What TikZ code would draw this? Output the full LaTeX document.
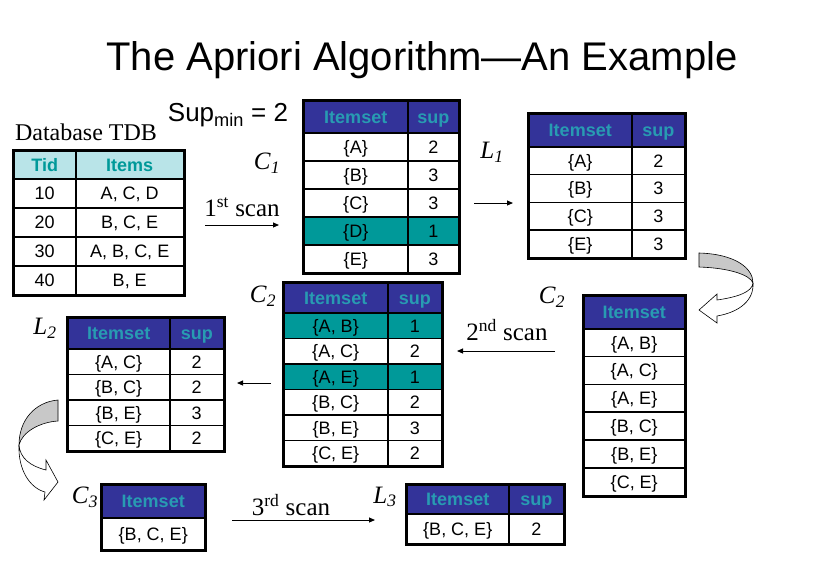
\documentclass[tikz,border=0pt]{standalone}
\usepackage{fontspec}
\setmainfont{Liberation Serif}
\newfontfamily\arialfont{Liberation Sans}
\usetikzlibrary{arrows.meta}
\definecolor{hdrblue}{RGB}{51,51,153}
\definecolor{hdrtext}{RGB}{40,155,178}
\definecolor{rowteal}{RGB}{0,153,153}
\definecolor{dbhead}{RGB}{185,228,232}
\definecolor{bandgray}{RGB}{200,200,200}
\tikzset{
  cell/.style={draw, line width=1.5pt, anchor=north west, inner sep=0pt,
    text height=13pt, text depth=0pt,
    font=\arialfont\fontsize{18}{18}\selectfont},
  hcell/.style={cell, fill=hdrblue, text=hdrtext,
    font=\arialfont\bfseries\fontsize{18}{18}\selectfont},
  dbcell/.style={cell, fill=dbhead, text=rowteal,
    font=\arialfont\bfseries\fontsize{18}{18}\selectfont},
  frame/.style={line width=3pt},
  lbl/.style={font=\fontsize{25}{25}\selectfont},
  scanarrow/.style={-{Triangle[length=6pt,width=5pt]}, line width=1pt},
  band/.style={draw, line width=0.6pt}
}
\begin{document}
\begin{tikzpicture}[x=1pt,y=-1pt]
    \useasboundingbox (0,0) rectangle (813,566);
    \node[font=\arialfont\fontsize{40}{40}\selectfont] (title) at (422,60) {The Apriori Algorithm—An Example};
    % database
    \node[lbl, font=\fontsize{24}{24}\selectfont] (TDB) at (86,132) {Database TDB};
    \node[font=\arialfont\fontsize{26}{26}\selectfont] (SUP) at (228,115) {Sup\textsubscript{min} = 2};
    \node[dbcell, minimum width=62pt, minimum height=28pt] (DBh1) at (13,150) {Tid};
    \node[dbcell, minimum width=108pt, minimum height=28pt] (DBh2) at (75,150) {Items};
    \foreach \t/\s [count=\i] in {10/{A, C, D}, 20/{B, C, E}, 30/{A, B, C, E}, 40/{B, E}} {
        \node[cell, minimum width=62pt, minimum height=29pt] (DB\i a) at (13,149+29*\i) {\t};
        \node[cell, minimum width=108pt, minimum height=29pt] (DB\i b) at (75,149+29*\i) {\s};
    }
    \draw[frame] (DBh1.north west) rectangle (DB4b.south east);
    % first scan
    \node[lbl] (C1l) at (267,163) {\textit{C}\textsubscript{\textit{1}}};
    \node[lbl] (S1) at (242,207) {1\textsuperscript{st} scan};
    \coordinate (S1a) at (205,225);
    \coordinate (S1b) at (279,225);
    \draw[scanarrow] (S1a) -- (S1b);
    \node[hcell, minimum width=104pt, minimum height=32pt] (C1h1) at (303,100) {Itemset};
    \node[hcell, minimum width=51pt, minimum height=32pt] (C1h2) at (407,100) {sup};
    \foreach \s/\n/\f [count=\i] in {{\{A\}}/2/white, {\{B\}}/3/white, {\{C\}}/3/white, {\{D\}}/1/rowteal, {\{E\}}/3/white} {
        \node[cell, fill=\f, minimum width=104pt, minimum height=28pt] (C1\i a) at (303,104+28*\i) {\s};
        \node[cell, fill=\f, minimum width=51pt, minimum height=28pt] (C1\i b) at (407,104+28*\i) {\n};
    }
    \draw[frame] (C1h1.north west) rectangle (C15b.south east);
    % L1
    \node[lbl] (L1l) at (492,152) {\textit{L}\textsubscript{\textit{1}}};
    \coordinate (A1a) at (474,203);
    \coordinate (A1b) at (513,203);
    \draw[scanarrow] (A1a) -- (A1b);
    \node[hcell, minimum width=103pt, minimum height=33pt] (L1h1) at (528,113) {Itemset};
    \node[hcell, minimum width=53pt, minimum height=33pt] (L1h2) at (631,113) {sup};
    \foreach \s/\n [count=\i] in {{\{A\}}/2, {\{B\}}/3, {\{C\}}/3, {\{E\}}/3} {
        \node[cell, minimum width=103pt, minimum height=27.75pt] (L1\i a) at (528,118.25+27.75*\i) {\s};
        \node[cell, minimum width=53pt, minimum height=27.75pt] (L1\i b) at (631,118.25+27.75*\i) {\n};
    }
    \draw[frame] (L1h1.north west) rectangle (L14b.south east);
    % join step L1 -> C2
    \draw[band, fill=bandgray] (699,253) .. controls (735,254) and (753,268) .. (753,283)
        .. controls (750,275) and (730,268) .. (699,267) -- cycle;
    \draw[band, fill=white] (753,283) .. controls (754,300) and (740,312) .. (717,316)
        -- (717,323) -- (699,310) -- (717,294) -- (717,300)
        .. controls (738,297) and (752,292) .. (753,283);
    \node[hcell, minimum width=101pt, minimum height=33pt] (C2Rh) at (583,295) {Itemset};
    \foreach \s [count=\i] in {{\{A, B\}}, {\{A, C\}}, {\{A, E\}}, {\{B, C\}}, {\{B, E\}}, {\{C, E\}}} {
        \node[cell, minimum width=101pt, minimum height=27.8pt] (C2R\i) at (583,300.2+27.8*\i) {\s};
    }
    \draw[frame] (C2Rh.north west) rectangle (C2R6.south east);
    % second scan
    \node[lbl] (C2Rl) at (552,297) {\textit{C}\textsubscript{\textit{2}}};
    \node[lbl] (S2) at (507,330) {2\textsuperscript{nd} scan};
    \coordinate (S2a) at (555,351);
    \coordinate (S2b) at (457,351);
    \draw[scanarrow] (S2a) -- (S2b);
    \node[lbl] (C2Ml) at (263,296) {\textit{C}\textsubscript{\textit{2}}};
    \node[hcell, minimum width=104pt, minimum height=30pt] (C2Mh1) at (283,282) {Itemset};
    \node[hcell, minimum width=54pt, minimum height=30pt] (C2Mh2) at (387,282) {sup};
    \foreach \s/\n/\f [count=\i] in {{\{A, B\}}/1/rowteal, {\{A, C\}}/2/white, {\{A, E\}}/1/rowteal, {\{B, C\}}/2/white, {\{B, E\}}/3/white, {\{C, E\}}/2/white} {
        \node[cell, fill=\f, minimum width=104pt, minimum height=25.5pt] (C2M\i a) at (283,286.5+25.5*\i) {\s};
        \node[cell, fill=\f, minimum width=54pt, minimum height=25.5pt] (C2M\i b) at (387,286.5+25.5*\i) {\n};
    }
    \draw[frame] (C2Mh1.north west) rectangle (C2M6b.south east);
    \coordinate (A2a) at (271,383);
    \coordinate (A2b) at (237,383);
    \draw[scanarrow] (A2a) -- (A2b);
    % L2
    \node[lbl] (L2l) at (45,328) {\textit{L}\textsubscript{\textit{2}}};
    \node[hcell, minimum width=102pt, minimum height=31pt] (L2h1) at (67,317) {Itemset};
    \node[hcell, minimum width=54pt, minimum height=31pt] (L2h2) at (169,317) {sup};
    \foreach \s/\n [count=\i] in {{\{A, C\}}/2, {\{B, C\}}/2, {\{B, E\}}/3, {\{C, E\}}/2} {
        \node[cell, minimum width=102pt, minimum height=25.5pt] (L2\i a) at (67,322.5+25.5*\i) {\s};
        \node[cell, minimum width=54pt, minimum height=25.5pt] (L2\i b) at (169,322.5+25.5*\i) {\n};
    }
    \draw[frame] (L2h1.north west) rectangle (L24b.south east);
    % join step L2 -> C3
    \draw[band, fill=bandgray] (58,400) .. controls (35,402) and (19,420) .. (19,445)
        .. controls (22,432) and (40,422) .. (58,421) -- cycle;
    \draw[band, fill=white] (19,445) .. controls (18,470) and (30,488) .. (45,492)
        -- (44,500) -- (58,482) -- (46,460) -- (46,470)
        .. controls (30,466) and (20,458) .. (19,445);
    \node[lbl] (C3l) at (85,497) {\textit{C}\textsubscript{\textit{3}}};
    \node[hcell, minimum width=103pt, minimum height=33pt] (C3h) at (101,484) {Itemset};
    \node[cell, minimum width=103pt, minimum height=32pt] (C31) at (101,517) {\{B, C, E\}};
    \draw[frame] (C3h.north west) rectangle (C31.south east);
    % third scan
    \node[lbl] (S3) at (291,505) {3\textsuperscript{rd} scan};
    \coordinate (S3a) at (232,520);
    \coordinate (S3b) at (375,520);
    \draw[scanarrow] (S3a) -- (S3b);
    \node[lbl] (L3l) at (385,497) {\textit{L}\textsubscript{\textit{3}}};
    \node[hcell, minimum width=102pt, minimum height=29pt] (L3h1) at (406,484) {Itemset};
    \node[hcell, minimum width=55pt, minimum height=29pt] (L3h2) at (508,484) {sup};
    \node[cell, minimum width=102pt, minimum height=30pt] (L31a) at (406,513) {\{B, C, E\}};
    \node[cell, minimum width=55pt, minimum height=30pt] (L31b) at (508,513) {2};
    \draw[frame] (L3h1.north west) rectangle (L31b.south east);
\end{tikzpicture}
\end{document}
